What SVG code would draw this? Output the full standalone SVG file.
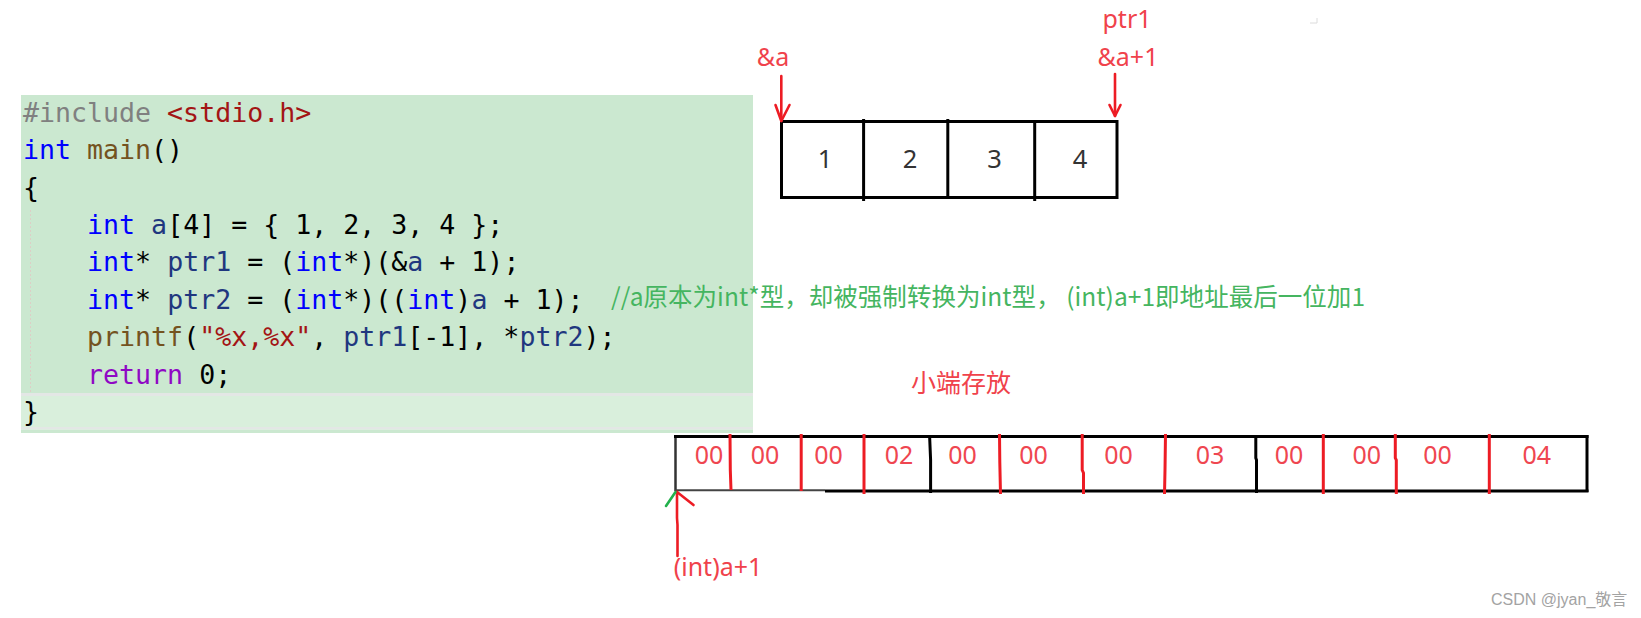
<svg xmlns="http://www.w3.org/2000/svg" width="1641" height="618" viewBox="0 0 1641 618">
<style>
.code{font-family:"DejaVu Sans Mono",monospace;font-size:26.6px;fill:#000}
.kw{fill:#0000ff}.fn{fill:#74531f}.var{fill:#1f377f}.str{fill:#a31515}.pp{fill:#808080}.ret{fill:#8f08c4}
.lbl{font-family:"Noto Sans","Noto Sans CJK SC",sans-serif;font-size:25px;fill:#f0424b}
.cell{font-family:"Noto Sans",sans-serif;font-size:25.5px;fill:#333;text-anchor:middle}
.byte{font-family:"Noto Sans",sans-serif;font-size:25px;fill:#ef4650;text-anchor:middle}
.box{fill:none;stroke:#000;stroke-width:3}
.rdiv{stroke:#ed1c24;stroke-width:3;fill:none}
.arrow{stroke:#ed1c24;stroke-width:2.6;fill:none;stroke-linecap:round;stroke-linejoin:round}
</style>

<g id="code-panel">
<rect x="21" y="95" width="732" height="298" fill="#cbe8d0"/>
<rect x="21" y="393" width="732" height="3" fill="#e3e7e5"/>
<rect x="21" y="396" width="732" height="31" fill="#d9efdc"/>
<rect x="21" y="427" width="732" height="2.5" fill="#e3e7e5"/>
<rect x="21" y="429.5" width="732" height="3.5" fill="#cbe8d0"/>
<line x1="30.5" y1="210" x2="30.5" y2="392" stroke="#dccfc6" stroke-width="1" stroke-dasharray="2,2"/>
<text class="code" xml:space="preserve" x="23" y="121.7"><tspan class="pp">#include</tspan> <tspan class="str">&lt;stdio.h&gt;</tspan></text>
<text class="code" xml:space="preserve" x="23" y="159.1"><tspan class="kw">int</tspan> <tspan class="fn">main</tspan>()</text>
<text class="code" xml:space="preserve" x="23" y="196.5">{</text>
<text class="code" xml:space="preserve" x="23" y="233.9">    <tspan class="kw">int</tspan> <tspan class="var">a</tspan>[4] = { 1, 2, 3, 4 };</text>
<text class="code" xml:space="preserve" x="23" y="271.3">    <tspan class="kw">int</tspan>* <tspan class="var">ptr1</tspan> = (<tspan class="kw">int</tspan>*)(&amp;<tspan class="var">a</tspan> + 1);</text>
<text class="code" xml:space="preserve" x="23" y="308.7">    <tspan class="kw">int</tspan>* <tspan class="var">ptr2</tspan> = (<tspan class="kw">int</tspan>*)((<tspan class="kw">int</tspan>)<tspan class="var">a</tspan> + 1);</text>
<text class="code" xml:space="preserve" x="23" y="346.1">    <tspan class="fn">printf</tspan>(<tspan class="str">"%x,%x"</tspan>, <tspan class="var">ptr1</tspan>[-1], *<tspan class="var">ptr2</tspan>);</text>
<text class="code" xml:space="preserve" x="23" y="383.5">    <tspan class="ret">return</tspan> 0;</text>
<text class="code" xml:space="preserve" x="23" y="420.9">}</text>
</g>

<g id="comment">
<text x="611" y="306" xml:space="preserve" font-family="Noto Sans CJK SC, sans-serif" font-size="24.5" fill="#45b560" textLength="754" lengthAdjust="spacing">//a原本为int*型，却被强制转换为int型， (int)a+1即地址最后一位加1</text>
</g>

<g id="array-a">
<rect class="box" x="781.5" y="121.5" width="335.5" height="76"/>
<line class="box" x1="863.6" y1="119" x2="863.6" y2="201"/>
<line class="box" x1="947.8" y1="119" x2="947.8" y2="198"/>
<line class="box" x1="1034.7" y1="121" x2="1034.7" y2="201"/>
<text class="cell" x="825" y="168">1</text>
<text class="cell" x="910" y="168">2</text>
<text class="cell" x="994.5" y="168">3</text>
<text class="cell" x="1080" y="168">4</text>
</g>

<g id="labels-top">
<text class="lbl" x="1127" y="28" text-anchor="middle">ptr1</text>
<text class="lbl" x="1128" y="66" text-anchor="middle">&amp;a+1</text>
<text class="lbl" x="773" y="66" text-anchor="middle">&amp;a</text>
</g>

<g id="title-little-endian">
<text class="lbl" x="961" y="392" text-anchor="middle" font-size="24">小端存放</text>
</g>

<g id="bytes">
<line x1="675.5" y1="436" x2="675.5" y2="491" stroke="#333" stroke-width="2.5"/>
<line x1="674" y1="436.5" x2="1588.5" y2="436.5" stroke="#000" stroke-width="3"/>
<line x1="1587" y1="435" x2="1587" y2="492" stroke="#000" stroke-width="3"/>
<line x1="675" y1="490.2" x2="825" y2="490.2" stroke="#444" stroke-width="2"/>
<line x1="825" y1="491" x2="1588.5" y2="491" stroke="#000" stroke-width="3"/>
<polyline class="box" points="929.6,436 930.6,460 930.6,493"/>
<polyline class="box" points="1255.8,436 1255.8,458 1256.5,460 1256.5,493"/>
<polyline class="rdiv" points="730,434 730.3,470 731,490"/>
<line class="rdiv" x1="801.2" y1="434" x2="801.2" y2="491"/>
<line class="rdiv" x1="864" y1="434" x2="864" y2="494"/>
<polyline class="rdiv" points="999.5,434 999.8,462 1000.5,494"/>
<polyline class="rdiv" points="1082.2,434 1082.2,470 1083.5,473 1083.5,494"/>
<polyline class="rdiv" points="1165.5,434 1165,470 1164.5,494"/>
<line class="rdiv" x1="1323.3" y1="434" x2="1323.3" y2="494"/>
<polyline class="rdiv" points="1395.3,434 1395.3,458 1396.3,460 1396.3,494"/>
<line class="rdiv" x1="1489.3" y1="434" x2="1489.3" y2="494"/>
<text class="byte" x="709" y="464">00</text>
<text class="byte" x="765" y="464">00</text>
<text class="byte" x="828.5" y="464">00</text>
<text class="byte" x="899" y="464">02</text>
<text class="byte" x="962.5" y="464">00</text>
<text class="byte" x="1033.5" y="464">00</text>
<text class="byte" x="1118.5" y="464">00</text>
<text class="byte" x="1210" y="464">03</text>
<text class="byte" x="1289" y="464">00</text>
<text class="byte" x="1366.7" y="464">00</text>
<text class="byte" x="1437.5" y="464">00</text>
<text class="byte" x="1536.7" y="464">04</text>
</g>

<g id="label-int-a-plus-1">
<text class="lbl" x="718" y="576" text-anchor="middle" font-size="26.5">(int)a+1</text>
</g>

<g id="connectors">
<path class="arrow" d="M781.3,76 L781.3,121"/>
<path class="arrow" d="M775.5,105 L781.3,121 L789.5,105"/>
<path class="arrow" d="M1115,74 L1115,116"/>
<path class="arrow" d="M1109.5,105 L1115,116 L1120.5,105"/>
<path class="arrow" d="M677.5,556 L677.5,525 L677,518 L677,492"/>
<path class="arrow" d="M677,492 L693.5,505"/>
<path d="M666,506 L675.5,492" stroke="#22b14c" stroke-width="2.6" fill="none" stroke-linecap="round"/>
</g>

<g id="corner-mark">
<path d="M1310,23 L1317,23 L1317,18" stroke="#dcdcdc" stroke-width="1" fill="none"/>
</g>

<g id="watermark">
<text x="1491" y="605" font-family="Liberation Sans, Noto Sans CJK SC, sans-serif" font-size="16" fill="#a3a3a3">CSDN @jyan_敬言</text>
</g>
</svg>
